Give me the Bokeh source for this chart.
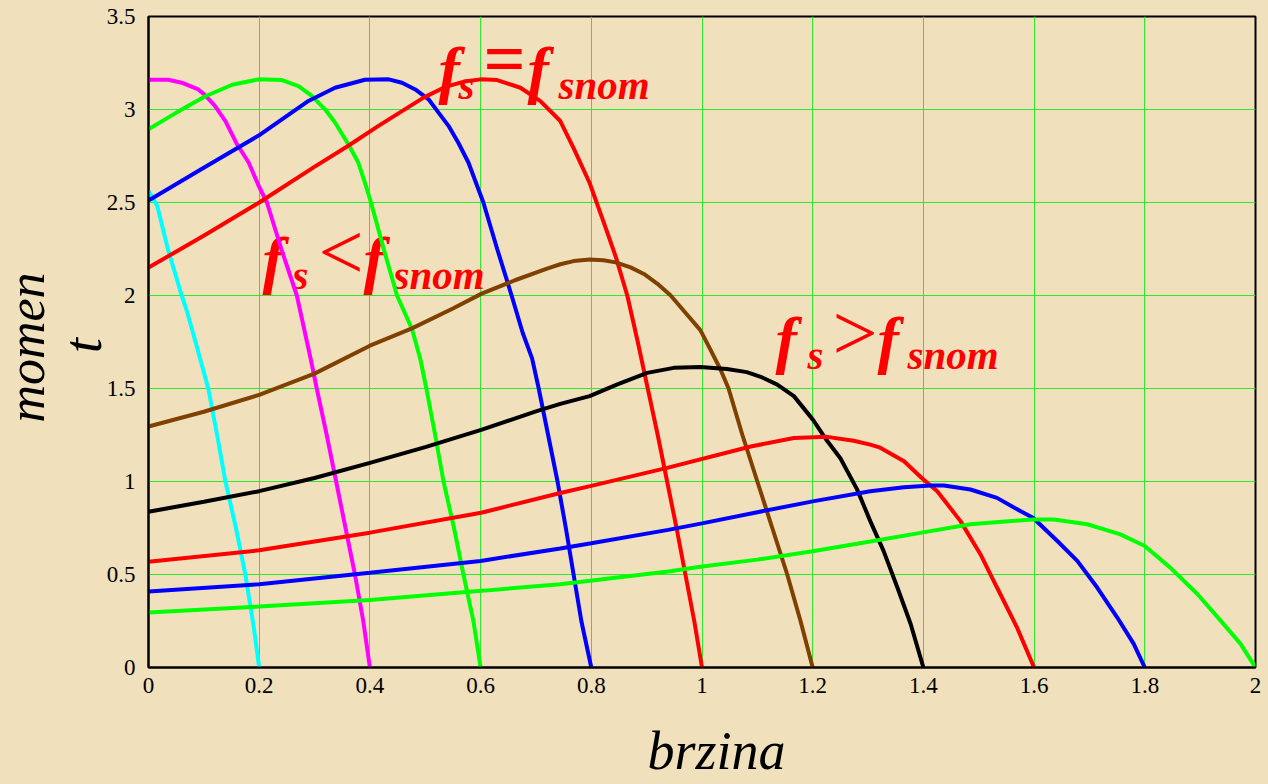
import math
from bokeh.plotting import figure
from bokeh.models import Range1d, Label, GlobalInlineStyleSheet
from bokeh.embed import file_html
from bokeh.resources import INLINE

# ---------------- data ----------------
x_ticks = [0, 0.2, 0.4, 0.6, 0.8, 1, 1.2, 1.4, 1.6, 1.8, 2]
x_tick_labels = ["0", "0.2", "0.4", "0.6", "0.8", "1", "1.2", "1.4", "1.6", "1.8", "2"]
y_ticks = [0, 0.5, 1, 1.5, 2, 2.5, 3, 3.5]
y_tick_labels = ["0", "0.5", "1", "1.5", "2", "2.5", "3", "3.5"]

speed_02 = [0.0, 0.007, 0.016, 0.035, 0.06, 0.07, 0.085, 0.108, 0.124, 0.139, 0.158, 0.175, 0.19, 0.2]
torque_02 = [2.56, 2.53, 2.48, 2.25, 2.0, 1.91, 1.75, 1.5, 1.25, 1.0, 0.75, 0.5, 0.22, 0.0]

speed_04 = [0.0, 0.036, 0.06, 0.09, 0.102, 0.12, 0.139, 0.16, 0.181, 0.199, 0.214, 0.24, 0.268, 0.293, 0.304, 0.322, 0.339, 0.356, 0.373, 0.388, 0.4]
torque_04 = [3.16, 3.16, 3.144, 3.108, 3.078, 3.019, 2.938, 2.813, 2.715, 2.59, 2.5, 2.25, 2.0, 1.66, 1.5, 1.25, 1.0, 0.75, 0.5, 0.25, 0.0]

speed_06 = [0.0, 0.03, 0.06, 0.102, 0.151, 0.199, 0.241, 0.271, 0.295, 0.319, 0.337, 0.361, 0.379, 0.391, 0.402, 0.425, 0.449, 0.476, 0.491, 0.502, 0.518, 0.533, 0.552, 0.569, 0.587, 0.6]
torque_06 = [2.894, 2.947, 3.0, 3.07, 3.133, 3.162, 3.158, 3.126, 3.073, 3.001, 2.93, 2.813, 2.715, 2.607, 2.5, 2.25, 2.0, 1.82, 1.66, 1.5, 1.25, 1.0, 0.75, 0.5, 0.25, 0.0]

speed_08 = [0.0, 0.096, 0.199, 0.289, 0.337, 0.391, 0.434, 0.458, 0.482, 0.506, 0.524, 0.542, 0.56, 0.578, 0.605, 0.63, 0.656, 0.676, 0.693, 0.705, 0.722, 0.739, 0.754, 0.768, 0.782, 0.8]
torque_08 = [2.51, 2.68, 2.86, 3.046, 3.117, 3.16, 3.162, 3.144, 3.108, 3.055, 2.983, 2.912, 2.82, 2.715, 2.5, 2.25, 2.0, 1.8, 1.662, 1.5, 1.25, 1.0, 0.75, 0.5, 0.25, 0.0]

speed_10 = [0.0, 0.102, 0.2, 0.299, 0.361, 0.4155, 0.497, 0.535, 0.57, 0.6, 0.63, 0.672, 0.708, 0.744, 0.768, 0.797, 0.822, 0.844, 0.865, 0.884, 0.902, 0.92, 0.937, 0.954, 0.97, 0.986, 1.0]
torque_10 = [2.15, 2.325, 2.5, 2.69, 2.805, 2.912, 3.064, 3.12, 3.15, 3.162, 3.158, 3.117, 3.045, 2.938, 2.792, 2.605, 2.397, 2.21, 2.0, 1.75, 1.5, 1.25, 1.0, 0.75, 0.5, 0.25, 0.0]

speed_12 = [0.0, 0.1, 0.2, 0.3, 0.4, 0.476, 0.55, 0.602, 0.662, 0.72, 0.744, 0.768, 0.797, 0.822, 0.844, 0.871, 0.895, 0.919, 0.943, 0.967, 0.997, 1.015, 1.033, 1.048, 1.073, 1.1, 1.127, 1.154, 1.178, 1.2]
torque_12 = [1.296, 1.375, 1.466, 1.58, 1.73, 1.823, 1.93, 2.01, 2.082, 2.145, 2.168, 2.185, 2.193, 2.189, 2.178, 2.151, 2.116, 2.064, 2.001, 1.918, 1.814, 1.71, 1.605, 1.5, 1.25, 1.0, 0.75, 0.5, 0.25, 0.0]

speed_14 = [0.0, 0.1, 0.2, 0.3, 0.4, 0.5, 0.601, 0.7, 0.744, 0.797, 0.846, 0.901, 0.949, 0.997, 1.045, 1.081, 1.106, 1.136, 1.166, 1.2, 1.226, 1.25, 1.28, 1.304, 1.328, 1.353, 1.377, 1.4]
torque_14 = [0.837, 0.891, 0.948, 1.019, 1.1, 1.185, 1.278, 1.377, 1.417, 1.459, 1.521, 1.584, 1.611, 1.615, 1.605, 1.588, 1.563, 1.521, 1.459, 1.334, 1.219, 1.125, 0.959, 0.787, 0.627, 0.43, 0.234, 0.0]

speed_16 = [0.0, 0.2, 0.4, 0.601, 0.744, 0.798, 0.937, 1.088, 1.166, 1.226, 1.274, 1.304, 1.322, 1.365, 1.397, 1.425, 1.467, 1.503, 1.533, 1.569, 1.6]
torque_16 = [0.569, 0.63, 0.725, 0.832, 0.938, 0.975, 1.073, 1.188, 1.234, 1.24, 1.219, 1.198, 1.182, 1.109, 1.019, 0.948, 0.787, 0.609, 0.43, 0.216, 0.0]

speed_18 = [0.0, 0.2, 0.4, 0.6, 0.744, 0.8, 0.939, 1.0, 1.1, 1.2, 1.304, 1.365, 1.413, 1.437, 1.485, 1.533, 1.575, 1.598, 1.642, 1.678, 1.714, 1.75, 1.78, 1.8]
torque_18 = [0.409, 0.448, 0.51, 0.573, 0.64, 0.668, 0.74, 0.775, 0.835, 0.893, 0.948, 0.969, 0.978, 0.978, 0.957, 0.912, 0.841, 0.805, 0.68, 0.573, 0.43, 0.27, 0.127, 0.0]

speed_20 = [0.0, 0.2, 0.4, 0.601, 0.744, 0.798, 0.939, 0.997, 1.1, 1.2, 1.304, 1.397, 1.485, 1.598, 1.636, 1.696, 1.756, 1.8, 1.846, 1.895, 1.937, 1.973, 2.0]
torque_20 = [0.296, 0.328, 0.363, 0.412, 0.448, 0.466, 0.516, 0.542, 0.58, 0.625, 0.677, 0.725, 0.77, 0.796, 0.796, 0.77, 0.716, 0.653, 0.537, 0.395, 0.252, 0.127, 0.0]

curves = [
    (speed_02, torque_02, "#00FFFF"),
    (speed_04, torque_04, "#FF00FF"),
    (speed_06, torque_06, "#00FF00"),
    (speed_08, torque_08, "#0000FF"),
    (speed_10, torque_10, "#FF0000"),
    (speed_12, torque_12, "#804000"),
    (speed_14, torque_14, "#000000"),
    (speed_16, torque_16, "#FF0000"),
    (speed_18, torque_18, "#0000FF"),
    (speed_20, torque_20, "#00FF00"),
]

x_title = "brzina"
y_title_lines = ["momen", "t"]

# ---------------- figure ----------------
BG = "#F0E1BC"
W, H = 1266, 782
ML, MR, MT, MB = 148, 11, 16, 115

p = figure(width=W, height=H, x_range=Range1d(0, 2), y_range=Range1d(0, 3.5),
           output_backend="svg", toolbar_location=None,
           min_border_left=ML, min_border_right=MR, min_border_top=MT, min_border_bottom=MB,
           background_fill_color=BG, border_fill_color=BG)
p.stylesheets.append(GlobalInlineStyleSheet(css="body{background:%s;}" % BG))

p.outline_line_color = "black"
p.outline_line_width = 2

for ax, ticks, labels in ((p.xaxis, x_ticks, x_tick_labels), (p.yaxis, y_ticks, y_tick_labels)):
    ax.ticker = ticks
    ax.major_label_overrides = {t: l for t, l in zip(ticks, labels)}
    ax.axis_line_color = "black"
    ax.axis_line_width = 2
    ax.major_tick_line_color = None
    ax.minor_tick_line_color = None
    ax.major_tick_out = 0
    ax.major_tick_in = 0
    ax.minor_tick_out = 0
    ax.minor_tick_in = 0
    ax.major_label_text_font = "Liberation Serif"
    ax.major_label_text_font_size = "23px"
    ax.major_label_text_color = "black"
p.xaxis.major_label_standoff = 10
p.yaxis.major_label_standoff = 13

p.xgrid.ticker = x_ticks
p.ygrid.ticker = y_ticks
for g in (p.xgrid, p.ygrid):
    g.grid_line_color = "#2EE82E"
    g.grid_line_width = 1

# page pixel -> data coordinates (for text placement only)
fw = (W - ML - MR) / 2.0
fh = (H - MT - MB) / 3.5
DY = 20  # baseline correction observed for Label rendering
def at(px, py):
    return (px - ML) / fw, (H - MB - py) / fh

def add_text(txt, px, py, size, style, color="#FF0000", place="center", angle=0.0, align="left"):
    if angle == 0.0:
        py = py - DY
    else:
        px = px - DY
    x, y = at(px, py)
    lab = Label(x=x, y=y, text=txt, text_font="Liberation Serif", text_font_size="%dpx" % size,
                text_font_style=style, text_color=color, text_align=align,
                text_baseline="alphabetic", angle=angle,
                level="underlay" if place == "center" else "annotation")
    p.add_layout(lab, place)

# f_s = f_snom
add_text("f", 438, 89, 64, "bold italic")
add_text("s", 458, 104, 41, "bold italic")
add_text("=", 483, 78, 74, "bold")
add_text("f", 527, 89, 64, "bold italic")
add_text("snom", 558, 104, 41, "bold italic")
# f_s < f_snom
add_text("f", 262, 279, 64, "bold italic")
add_text("s", 292, 294, 41, "bold italic")
add_text("<", 318, 271, 80, "normal")
add_text("f", 363, 279, 64, "bold italic")
add_text("snom", 393, 294, 41, "bold italic")
# f_s > f_snom
add_text("f", 775, 359, 64, "bold italic")
add_text("s", 807, 374, 41, "bold italic")
add_text(">", 832, 352, 80, "normal")
add_text("f", 877, 359, 64, "bold italic")
add_text("snom", 907, 374, 41, "bold italic")

for sx, ty, col in curves:
    p.line(sx, ty, line_color=col, line_width=4)

# axis titles (placed in side panels so they are not clipped to the frame)
add_text(x_title, 716, 770, 54, "italic", color="black", place="below", align="center")
add_text(y_title_lines[0], 46, 347, 52, "italic", color="black", place="left", angle=math.pi / 2, align="center")
add_text(y_title_lines[1], 102, 345, 54, "italic", color="black", place="below", angle=math.pi / 2, align="center")

open("out.html", "w").write(file_html(p, INLINE))
